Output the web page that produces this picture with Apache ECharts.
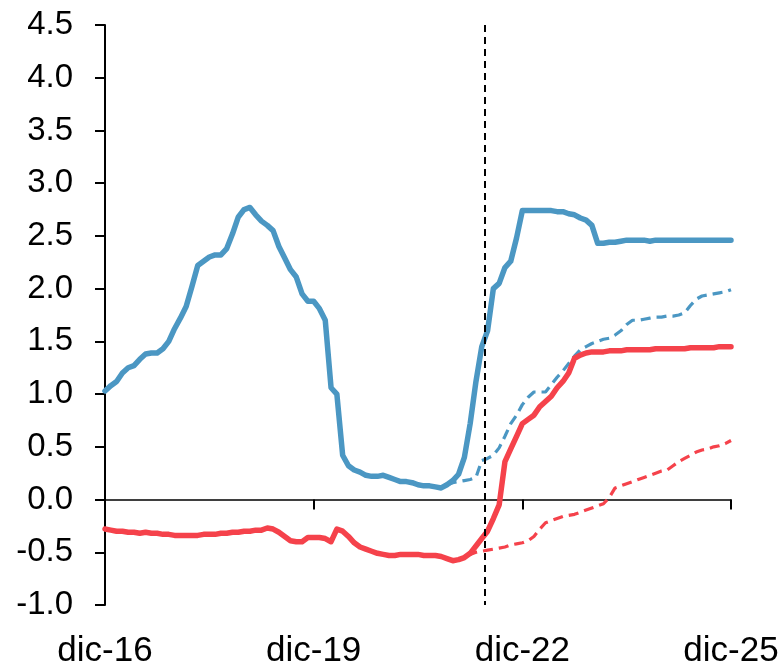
<!DOCTYPE html>
<html>
<head>
<meta charset="utf-8">
<script src="https://cdn.jsdelivr.net/npm/echarts@6/dist/echarts.min.js"></script>
<style>
html,body{margin:0;padding:0;background:#fff;}
#chart{width:784px;height:669px;}
</style>
</head>
<body>
<div id="chart"></div>
<script>
// Monthly data, index 0 = dic-16 ... index 108 = dic-25
var tickLabels = ['dic-16', 'dic-19', 'dic-22', 'dic-25'];

var blueSolid = [
  1.03, 1.08, 1.12, 1.20, 1.25, 1.27, 1.33, 1.38, 1.39, 1.39,
  1.43, 1.50, 1.62, 1.72, 1.83, 2.02, 2.22, 2.26, 2.30, 2.32,
  2.32, 2.38, 2.52, 2.68, 2.75, 2.77, 2.70, 2.64, 2.60, 2.55,
  2.40, 2.29, 2.18, 2.11, 1.95, 1.88, 1.88, 1.81, 1.70, 1.06,
  1.00, 0.42, 0.32, 0.28, 0.26, 0.23, 0.22, 0.22, 0.23, 0.21,
  0.19, 0.17, 0.17, 0.16, 0.14, 0.13, 0.13, 0.12, 0.11, 0.14,
  0.18, 0.24, 0.40, 0.72, 1.12, 1.45, 1.60, 2.00, 2.05, 2.20,
  2.26, 2.48, 2.74, 2.74, 2.74, 2.74, 2.74, 2.74, 2.73, 2.73,
  2.71, 2.70, 2.67, 2.65, 2.60, 2.43, 2.43, 2.44, 2.44, 2.45,
  2.46, 2.46, 2.46, 2.46, 2.45, 2.46, 2.46, 2.46, 2.46, 2.46,
  2.46, 2.46, 2.46, 2.46, 2.46, 2.46, 2.46, 2.46, 2.46
];

var redSolid = [
  -0.28, -0.29, -0.30, -0.30, -0.31, -0.31, -0.32, -0.31, -0.32, -0.32,
  -0.33, -0.33, -0.34, -0.34, -0.34, -0.34, -0.34, -0.33, -0.33, -0.33,
  -0.32, -0.32, -0.31, -0.31, -0.30, -0.30, -0.29, -0.29, -0.27, -0.28,
  -0.31, -0.35, -0.39, -0.40, -0.40, -0.36, -0.36, -0.36, -0.37, -0.40,
  -0.28, -0.30, -0.35, -0.41, -0.45, -0.47, -0.49, -0.51, -0.52, -0.53,
  -0.53, -0.52, -0.52, -0.52, -0.52, -0.53, -0.53, -0.53, -0.54, -0.56,
  -0.58, -0.57, -0.55, -0.51, -0.44, -0.37, -0.30, -0.18, -0.05, 0.36,
  0.48, 0.60, 0.72, 0.76, 0.80, 0.88, 0.93, 0.98, 1.06, 1.12,
  1.20, 1.34, 1.37, 1.39, 1.40, 1.40, 1.40, 1.41, 1.41, 1.41,
  1.42, 1.42, 1.42, 1.42, 1.42, 1.43, 1.43, 1.43, 1.43, 1.43,
  1.43, 1.44, 1.44, 1.44, 1.44, 1.44, 1.45, 1.45, 1.45
];

var blueDashedStart = 59;
var blueDashed = [
  0.14, 0.16, 0.17, 0.18, 0.19, 0.21, 0.37, 0.39, 0.42, 0.49,
  0.60, 0.72, 0.80, 0.90, 0.97, 1.02, 1.02, 1.02, 1.09, 1.16,
  1.22, 1.29, 1.36, 1.42, 1.45, 1.48, 1.50, 1.52, 1.53, 1.56,
  1.60, 1.66, 1.70, 1.70, 1.71, 1.72, 1.73, 1.73, 1.74, 1.74,
  1.75, 1.77, 1.84, 1.90, 1.93, 1.94, 1.95, 1.96, 1.97, 1.99
];

var redDashedStart = 60;
var redDashed = [
  -0.58, -0.57, -0.55, -0.52, -0.50, -0.49, -0.48, -0.47, -0.46, -0.45,
  -0.43, -0.42, -0.41, -0.39, -0.35, -0.28, -0.22, -0.20, -0.18, -0.16,
  -0.15, -0.14, -0.12, -0.10, -0.08, -0.06, -0.04, 0.02, 0.11, 0.13,
  0.15, 0.17, 0.19, 0.21, 0.23, 0.25, 0.27, 0.28, 0.32, 0.36,
  0.39, 0.42, 0.45, 0.47, 0.48, 0.50, 0.51, 0.53, 0.56
];

var cutoffMonth = 65.5; // vertical dashed marker

function toPairs(arr, start) {
  return arr.map(function (v, i) { return [start + i, v]; });
}

var BLUE = '#4B97C3';
var RED = '#F5424B';
var FONT = 'Liberation Sans, Arial, sans-serif';

var chart = echarts.init(document.getElementById('chart'), null, {renderer: 'canvas'});
chart.setOption({
  animation: false,
  backgroundColor: '#ffffff',
  grid: {left: 105, right: 53, top: 25, bottom: 58, containLabel: false},
  xAxis: [
    {
      type: 'value', min: 0, max: 108, interval: 36,
      position: 'bottom',
      axisLine: {show: false, onZero: false},
      axisTick: {show: false},
      splitLine: {show: false},
      axisLabel: {
        show: true, margin: 29, fontSize: 35, fontFamily: FONT, color: '#000',
        formatter: function (v) { return tickLabels[Math.round(v / 36)]; }
      }
    },
    {
      type: 'value', min: 0, max: 108, interval: 36,
      position: 'bottom',
      axisLine: {show: true, onZero: true, onZeroAxisIndex: 0, lineStyle: {color: '#000', width: 1.5}},
      axisTick: {show: true, inside: false, length: 10, lineStyle: {color: '#000', width: 2}},
      splitLine: {show: false},
      axisLabel: {show: false}
    }
  ],
  yAxis: {
    type: 'value', min: -1, max: 4.5, interval: 0.5,
    axisLine: {show: true, onZero: false, lineStyle: {color: '#000', width: 2}},
    axisTick: {show: true, inside: false, length: 10, lineStyle: {color: '#000', width: 2}},
    splitLine: {show: false},
    axisLabel: {
      margin: 32, fontSize: 33, fontFamily: FONT, color: '#000',
      formatter: function (v) { return v.toFixed(1); }
    }
  },
  series: [
    {
      type: 'line', xAxisIndex: 0, data: toPairs(blueDashed, blueDashedStart),
      symbol: 'none', lineStyle: {color: BLUE, width: 3.2, type: [10, 6]}, z: 2
    },
    {
      type: 'line', xAxisIndex: 0, data: toPairs(redDashed, redDashedStart),
      symbol: 'none', lineStyle: {color: RED, width: 3.2, type: [10, 6]}, z: 2
    },
    {
      type: 'line', xAxisIndex: 0, data: toPairs(blueSolid, 0),
      symbol: 'none', lineStyle: {color: BLUE, width: 5.5, join: 'round', cap: 'round'}, z: 3
    },
    {
      type: 'line', xAxisIndex: 0, data: toPairs(redSolid, 0),
      symbol: 'none', lineStyle: {color: RED, width: 5.5, join: 'round', cap: 'round'}, z: 3,
      markLine: {
        silent: true, symbol: ['none', 'none'], label: {show: false},
        lineStyle: {color: '#000', width: 2, type: [7, 5]},
        data: [[{coord: [cutoffMonth, 4.5]}, {coord: [cutoffMonth, -1]}]]
      }
    }
  ]
});
</script>
</body>
</html>
